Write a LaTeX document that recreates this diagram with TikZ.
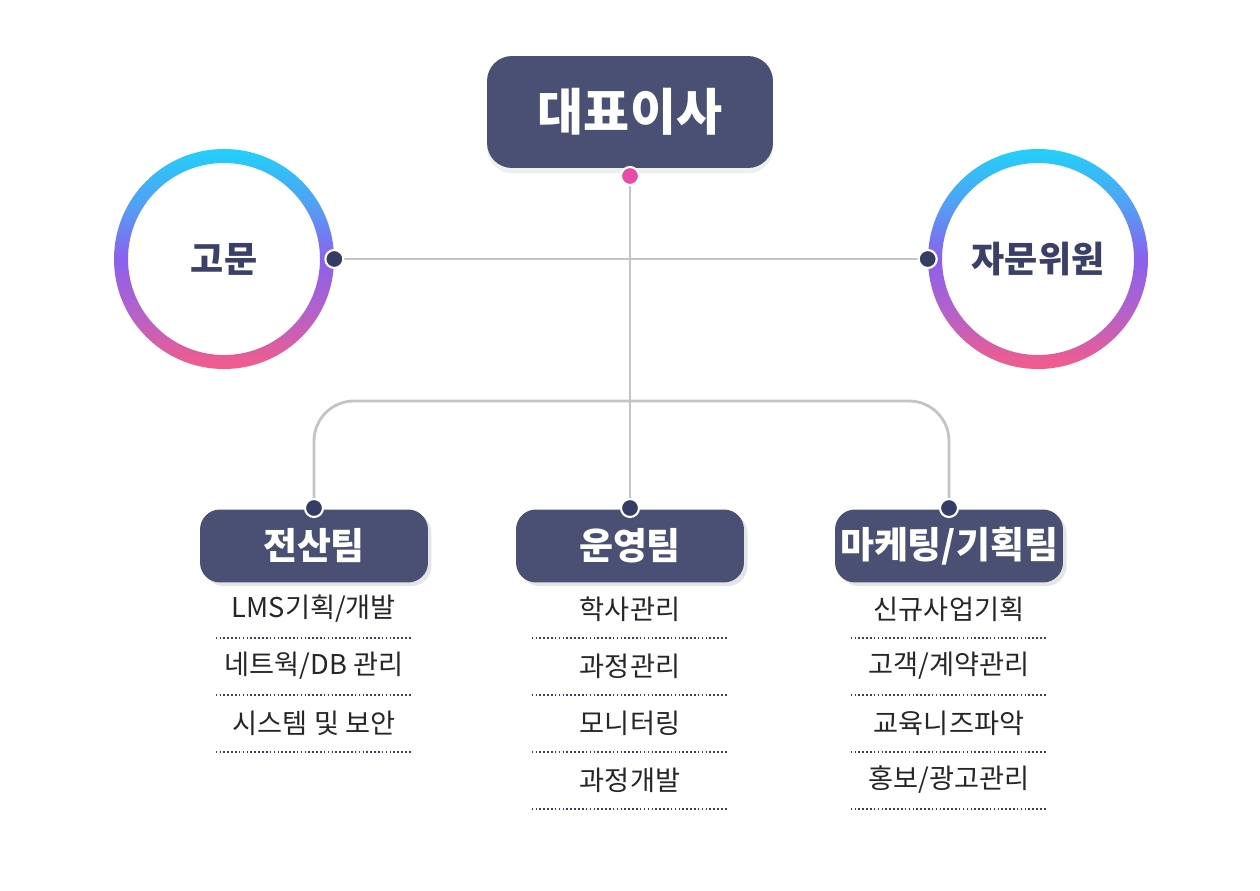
\documentclass[tikz,border=0pt]{standalone}
\usepackage{fontspec}
\setmainfont{Noto Sans CJK KR}
\usetikzlibrary{positioning,shadows}
\definecolor{BoxNavy}{HTML}{4A5074}
\definecolor{DotNavy}{HTML}{363D65}
\definecolor{TextNavy}{HTML}{3A4068}
\definecolor{LinkGray}{HTML}{C4C4C4}
\definecolor{DotPink}{HTML}{E94BA9}
\pgfdeclarelayer{back}
\pgfsetlayers{back,main}
% cyan to purple to pink, bottom up
\pgfdeclareverticalshading{ringfade}{100bp}{
  rgb(0bp)=(0.96,0.36,0.53); rgb(25bp)=(0.96,0.36,0.53);
  rgb(37bp)=(0.72,0.38,0.78); rgb(50bp)=(0.54,0.38,0.93);
  rgb(62bp)=(0.33,0.62,0.96); rgb(75bp)=(0.13,0.82,0.98); rgb(100bp)=(0.13,0.82,0.98)}
% gradient ring, #1 centre
\def\ring#1{
  \shade[even odd rule,shading=ringfade] (#1) circle[radius=110] circle[radius=96];
}
% duty list under a team, #1 name #2 x #3 items
\def\duties#1#2#3{
  \foreach \t [count=\i] in {#3}{%
    \node[duty] (#1\i) at (#2,{552+57*\i}) {\t};
    \draw[dotline] (#1\i.south west) -- (#1\i.south east);
  }
}
\begin{document}
\begin{tikzpicture}[x=0.02cm,y=-0.02cm,
  ceo/.style={rectangle,rounded corners=0.5cm,fill=BoxNavy,minimum width=5.72cm,minimum height=2.24cm,text=white,font=\bfseries\fontsize{28.5}{32}\selectfont,drop shadow={opacity=0.12,shadow xshift=0pt,shadow yshift=-3pt}},
  team/.style={rectangle,rounded corners=0.4cm,fill=BoxNavy,minimum width=4.56cm,minimum height=1.46cm,inner sep=0pt,text=white,font=\bfseries\fontsize{21}{24}\selectfont,drop shadow={opacity=0.2,shadow xshift=2pt,shadow yshift=-2pt}},
  advisor/.style={circle,minimum size=4.4cm,text=TextNavy,font=\bfseries\fontsize{20.5}{24}\selectfont},
  dot/.style={circle,fill=DotNavy,draw=white,line width=1.2pt,minimum size=0.36cm,inner sep=0pt},
  duty/.style={minimum width=3.92cm,minimum height=1.14cm,inner sep=0pt,text=black!85,font=\fontsize{15.5}{18}\selectfont},
  dotline/.style={TextNavy,line width=1.1pt,dash pattern=on 0.9pt off 1.3pt},
  link/.style={LinkGray,line width=1.6pt}]

\begin{pgfonlayer}{back}
\fill[white] (0,0) rectangle (1260,891);
\end{pgfonlayer}
\useasboundingbox (0,0) rectangle (1260,891);

% the boss
\node[ceo] (ceo) at (630,112) {대표이사};
\node[dot,fill=DotPink] (ceodot) at (630,176) {};

% advisors left and right
\ring{224,259}
\ring{1038,259}
\node[advisor] (gomun) at (224,259) {고문};
\node[advisor] (jamun) at (1038,259) {자문위원};
\node[dot] (gomundot) at (gomun.east) {};
\node[dot] (jamundot) at (jamun.west) {};

% teams
\node[team] (it) at (314,546) {전산팀};
\node[team] (ops) at (630,546) {운영팀};
\node[team] (mkt) at (949,546) {마케팅/기획팀};
\node[dot] (itdot) at (314,508) {};
\node[dot] (opsdot) at (630,508) {};
\node[dot] (mktdot) at (949,508) {};
\coordinate (fork) at (630,401);

% connectors behind the dots
\begin{pgfonlayer}{back}
\draw[link] (ceodot) -- (opsdot);
\draw[link] (gomundot) -- (jamundot);
\draw[link,rounded corners=0.8cm] (itdot) |- (fork) -| (mktdot);
\end{pgfonlayer}

% what each team does
\duties{itjob}{314}{LMS기획/개발,네트웍/DB 관리,시스템 및 보안}
\duties{opsjob}{630}{학사관리,과정관리,모니터링,과정개발}
\duties{mktjob}{949}{신규사업기획,고객/계약관리,교육니즈파악,홍보/광고관리}

\end{tikzpicture}
\end{document}
